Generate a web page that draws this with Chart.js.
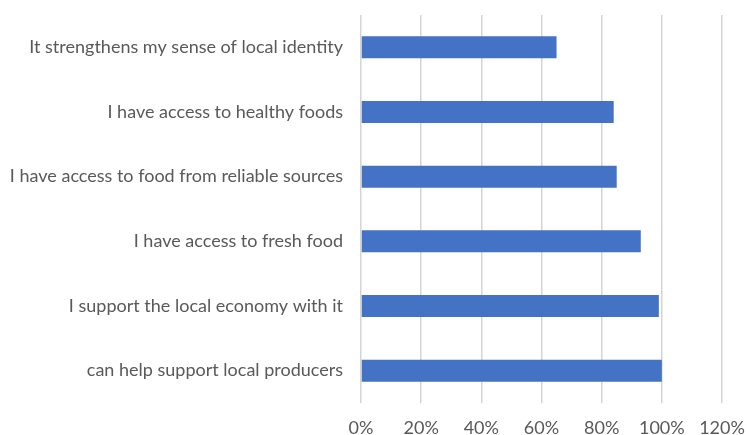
<!DOCTYPE html>
<html>
<head>
<meta charset="utf-8">
<script src="https://cdn.jsdelivr.net/npm/chart.js@4/dist/chart.umd.min.js"></script>
<style>
  body { margin: 0; background: #fff; }
  #wrap { width: 747px; height: 435px; }
</style>
</head>
<body>
<div id="wrap"><canvas id="myChart" width="747" height="435"></canvas></div>
<script>
// Categories, top to bottom
const categories = [
    'It strengthens my sense of local identity',
    'I have access to healthy foods',
    'I have access to food from reliable sources',
    'I have access to fresh food',
    'I support the local economy with it',
    'can help support local producers'
];
// Share of respondents (%)
const shares = [65, 84, 85, 93, 99, 100];
// Axis ticks (%)
const xTicks = [0, 20, 40, 60, 80, 100, 120];

const labelFont = { family: 'Lato, "Open Sans", sans-serif', size: 18 };

const ctx = document.getElementById('myChart').getContext('2d');
const myChart = new Chart(ctx, {
    type: 'bar',
    data: {
        labels: categories,
        datasets: [{
            data: shares,
            backgroundColor: '#4472C4',
            borderWidth: 0,
            categoryPercentage: 1,
            barPercentage: 0.34
        }]
    },
    options: {
        indexAxis: 'y',
        responsive: false,
        animation: false,
        layout: { padding: { top: 15, left: 0, right: 0, bottom: 0 } },
        plugins: {
            legend: { display: false },
            tooltip: { enabled: false }
        },
        scales: {
            x: {
                min: xTicks[0],
                max: xTicks[xTicks.length - 1],
                afterBuildTicks: function (scale) {
                    scale.ticks = xTicks.map(v => ({ value: v }));
                },
                afterFit: function (scale) {
                    // fixed axis height and right margin like the original
                    scale.height = 32;
                    scale.paddingLeft = 0;
                    scale.paddingRight = 25;
                },
                grid: { color: '#d4d4d4', lineWidth: 1.5, drawTicks: false },
                border: { display: false },
                ticks: {
                    color: '#595959',
                    font: labelFont,
                    padding: 14,
                    callback: function (value) {
                        return value + '%';
                    }
                }
            },
            y: {
                afterFit: function (scale) {
                    scale.width = 361;
                    scale.paddingTop = 0;
                    scale.paddingBottom = 0;
                },
                grid: { display: false, drawTicks: false },
                border: { display: false },
                ticks: {
                    color: '#595959',
                    font: labelFont,
                    padding: 18
                }
            }
        }
    }
});
</script>
</body>
</html>
